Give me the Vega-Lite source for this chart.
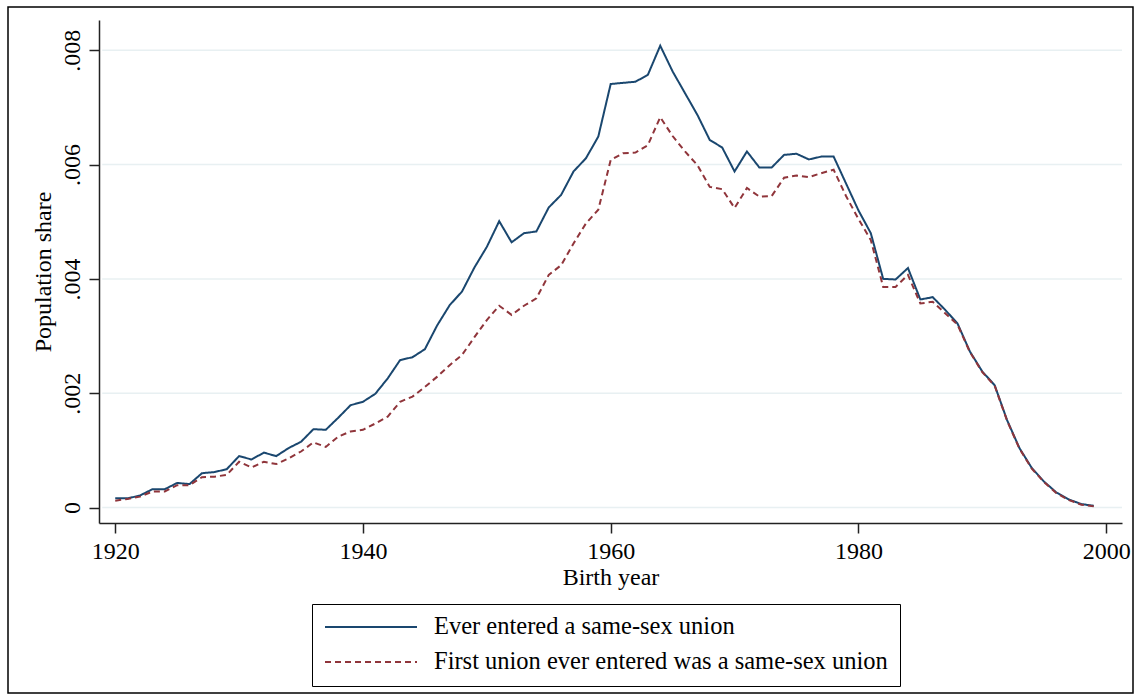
{
  "$schema": "https://vega.github.io/schema/vega-lite/v6.json",
  "width": 1125,
  "height": 686,
  "autosize": {"type": "none"},
  "padding": {"left": 8, "top": 7, "right": 8, "bottom": 5},
  "background": "white",
  "config": {"view": {"stroke": "#000", "strokeWidth": 1.5}, "font": "Liberation Serif"},
  "data": {"values": [
    {"year": 1920, "ever": 0.00016, "first": 0.00012},
    {"year": 1921, "ever": 0.00016, "first": 0.00015},
    {"year": 1922, "ever": 0.00021, "first": 0.00019},
    {"year": 1923, "ever": 0.00032, "first": 0.00028},
    {"year": 1924, "ever": 0.00032, "first": 0.00028},
    {"year": 1925, "ever": 0.00043, "first": 0.00039},
    {"year": 1926, "ever": 0.00041, "first": 0.00039},
    {"year": 1927, "ever": 0.0006, "first": 0.00053},
    {"year": 1928, "ever": 0.00062, "first": 0.00054},
    {"year": 1929, "ever": 0.00067, "first": 0.00057},
    {"year": 1930, "ever": 0.0009, "first": 0.0008},
    {"year": 1931, "ever": 0.00084, "first": 0.0007},
    {"year": 1932, "ever": 0.00096, "first": 0.0008},
    {"year": 1933, "ever": 0.0009, "first": 0.00076},
    {"year": 1934, "ever": 0.00104, "first": 0.00086},
    {"year": 1935, "ever": 0.00115, "first": 0.00098},
    {"year": 1936, "ever": 0.00137, "first": 0.00114},
    {"year": 1937, "ever": 0.00136, "first": 0.00106},
    {"year": 1938, "ever": 0.00157, "first": 0.00124},
    {"year": 1939, "ever": 0.00179, "first": 0.00133},
    {"year": 1940, "ever": 0.00185, "first": 0.00136},
    {"year": 1941, "ever": 0.00199, "first": 0.00147},
    {"year": 1942, "ever": 0.00226, "first": 0.00159},
    {"year": 1943, "ever": 0.00258, "first": 0.00185},
    {"year": 1944, "ever": 0.00263, "first": 0.00194},
    {"year": 1945, "ever": 0.00277, "first": 0.00211},
    {"year": 1946, "ever": 0.00319, "first": 0.00229},
    {"year": 1947, "ever": 0.00354, "first": 0.00249},
    {"year": 1948, "ever": 0.00378, "first": 0.00267},
    {"year": 1949, "ever": 0.0042, "first": 0.00298},
    {"year": 1950, "ever": 0.00456, "first": 0.00328},
    {"year": 1951, "ever": 0.00501, "first": 0.00353},
    {"year": 1952, "ever": 0.00464, "first": 0.00337},
    {"year": 1953, "ever": 0.0048, "first": 0.00353},
    {"year": 1954, "ever": 0.00483, "first": 0.00366},
    {"year": 1955, "ever": 0.00525, "first": 0.00407},
    {"year": 1956, "ever": 0.00547, "first": 0.00424},
    {"year": 1957, "ever": 0.00588, "first": 0.00462},
    {"year": 1958, "ever": 0.00611, "first": 0.00497},
    {"year": 1959, "ever": 0.00649, "first": 0.00521},
    {"year": 1960, "ever": 0.00741, "first": 0.00608},
    {"year": 1961, "ever": 0.00743, "first": 0.0062},
    {"year": 1962, "ever": 0.00745, "first": 0.00621},
    {"year": 1963, "ever": 0.00757, "first": 0.00634},
    {"year": 1964, "ever": 0.00808, "first": 0.00683},
    {"year": 1965, "ever": 0.00763, "first": 0.0065},
    {"year": 1966, "ever": 0.00725, "first": 0.00623},
    {"year": 1967, "ever": 0.00687, "first": 0.00599},
    {"year": 1968, "ever": 0.00643, "first": 0.00561},
    {"year": 1969, "ever": 0.0063, "first": 0.00557},
    {"year": 1970, "ever": 0.00588, "first": 0.00524},
    {"year": 1971, "ever": 0.00623, "first": 0.00559},
    {"year": 1972, "ever": 0.00595, "first": 0.00544},
    {"year": 1973, "ever": 0.00595, "first": 0.00545},
    {"year": 1974, "ever": 0.00617, "first": 0.00577},
    {"year": 1975, "ever": 0.00619, "first": 0.00581},
    {"year": 1976, "ever": 0.00609, "first": 0.00578},
    {"year": 1977, "ever": 0.00614, "first": 0.00585},
    {"year": 1978, "ever": 0.00614, "first": 0.00591},
    {"year": 1979, "ever": 0.00567, "first": 0.00545},
    {"year": 1980, "ever": 0.0052, "first": 0.00505},
    {"year": 1981, "ever": 0.0048, "first": 0.00468},
    {"year": 1982, "ever": 0.004, "first": 0.00386},
    {"year": 1983, "ever": 0.00399, "first": 0.00386},
    {"year": 1984, "ever": 0.00419, "first": 0.00407},
    {"year": 1985, "ever": 0.00364, "first": 0.00357},
    {"year": 1986, "ever": 0.00368, "first": 0.0036},
    {"year": 1987, "ever": 0.00346, "first": 0.0034},
    {"year": 1988, "ever": 0.00322, "first": 0.0032},
    {"year": 1989, "ever": 0.00273, "first": 0.00272},
    {"year": 1990, "ever": 0.00238, "first": 0.00237},
    {"year": 1991, "ever": 0.00214, "first": 0.00213},
    {"year": 1992, "ever": 0.00153, "first": 0.00152},
    {"year": 1993, "ever": 0.00104, "first": 0.00103},
    {"year": 1994, "ever": 0.00069, "first": 0.00068},
    {"year": 1995, "ever": 0.00045, "first": 0.00044},
    {"year": 1996, "ever": 0.00026, "first": 0.00025},
    {"year": 1997, "ever": 0.00014, "first": 0.00013},
    {"year": 1998, "ever": 0.00006, "first": 0.00005},
    {"year": 1999, "ever": 0.00003, "first": 0.00002}
  ]},
  "layer": [
    {
      "data": {"values": [{"g": 0}, {"g": 0.002}, {"g": 0.004}, {"g": 0.006}, {"g": 0.008}]},
      "mark": {"type": "rule", "color": "#e8f0f2", "strokeWidth": 1.5},
      "encoding": {
        "y": {"field": "g", "type": "quantitative", "title": "Population share"},
        "x": {"datum": 1918.95, "type": "quantitative", "title": "Birth year"},
        "x2": {"datum": 2001.28}
      }
    },
    {
      "transform": [{"fold": ["ever", "first"], "as": ["key", "v"]}],
      "mark": {"type": "line", "strokeWidth": 2},
      "encoding": {
        "x": {
          "field": "year", "type": "quantitative",
          "scale": {"domain": [1918.69, 2001.28], "range": [91, 1114], "nice": false, "zero": false},
          "axis": {
            "values": [1920, 1940, 1960, 1980, 2000], "format": "d", "offset": -170,
            "title": "Birth year", "grid": false,
            "domainColor": "#222", "tickColor": "#222", "domainWidth": 1.5, "tickWidth": 1.5, "tickSize": 10,
            "labelFontSize": 24, "titleFontSize": 24, "labelColor": "#000", "titleColor": "#000",
            "titleFontWeight": "normal", "labelPadding": 6, "titlePadding": 2,
            "labelFont": "Liberation Serif", "titleFont": "Liberation Serif"
          }
        },
        "y": {
          "field": "v", "type": "quantitative",
          "scale": {"domain": [-0.000271, 0.00853], "range": [516, 13], "nice": false, "zero": false},
          "axis": {
            "values": [0, 0.002, 0.004, 0.006, 0.008], "offset": -91,
            "labelExpr": "datum.value == 0 ? '0' : substring(format(datum.value, '.3f'), 1)",
            "labelAngle": -90, "labelAlign": "center", "labelBaseline": "bottom",
            "title": "Population share", "grid": false,
            "domainColor": "#222", "tickColor": "#222", "domainWidth": 1.5, "tickWidth": 1.5, "tickSize": 10,
            "labelFontSize": 24, "titleFontSize": 24, "labelColor": "#000", "titleColor": "#000",
            "titleFontWeight": "normal", "labelPadding": 5, "titlePadding": 5,
            "labelFont": "Liberation Serif", "titleFont": "Liberation Serif"
          }
        },
        "color": {
          "field": "key", "type": "nominal",
          "scale": {"domain": ["ever", "first"], "range": ["#1a476f", "#90353b"]},
          "legend": {
            "title": null, "orient": "none", "legendX": 304, "legendY": 597, "direction": "vertical",
            "symbolType": "stroke", "symbolSize": 8464, "symbolStrokeWidth": 2, "clipHeight": 22,
            "labelFontSize": 24.5, "labelFont": "Liberation Serif", "labelColor": "#000", "labelOffset": 16,
            "rowPadding": 10, "padding": 12, "strokeColor": "#000", "labelLimit": 700,
            "labelExpr": "datum.label == 'ever' ? 'Ever entered a same-sex union' : 'First union ever entered was a same-sex union'"
          }
        },
        "strokeDash": {
          "field": "key", "type": "nominal",
          "scale": {"domain": ["ever", "first"], "range": [[1, 0], [6, 4]]},
          "legend": {
            "title": null, "orient": "none", "legendX": 304, "legendY": 597, "direction": "vertical",
            "symbolType": "stroke", "symbolSize": 8464, "symbolStrokeWidth": 2, "clipHeight": 22,
            "labelFontSize": 24.5, "labelFont": "Liberation Serif", "labelColor": "#000", "labelOffset": 16,
            "rowPadding": 10, "padding": 12, "strokeColor": "#000", "labelLimit": 700,
            "labelExpr": "datum.label == 'ever' ? 'Ever entered a same-sex union' : 'First union ever entered was a same-sex union'"
          }
        }
      }
    }
  ]
}
